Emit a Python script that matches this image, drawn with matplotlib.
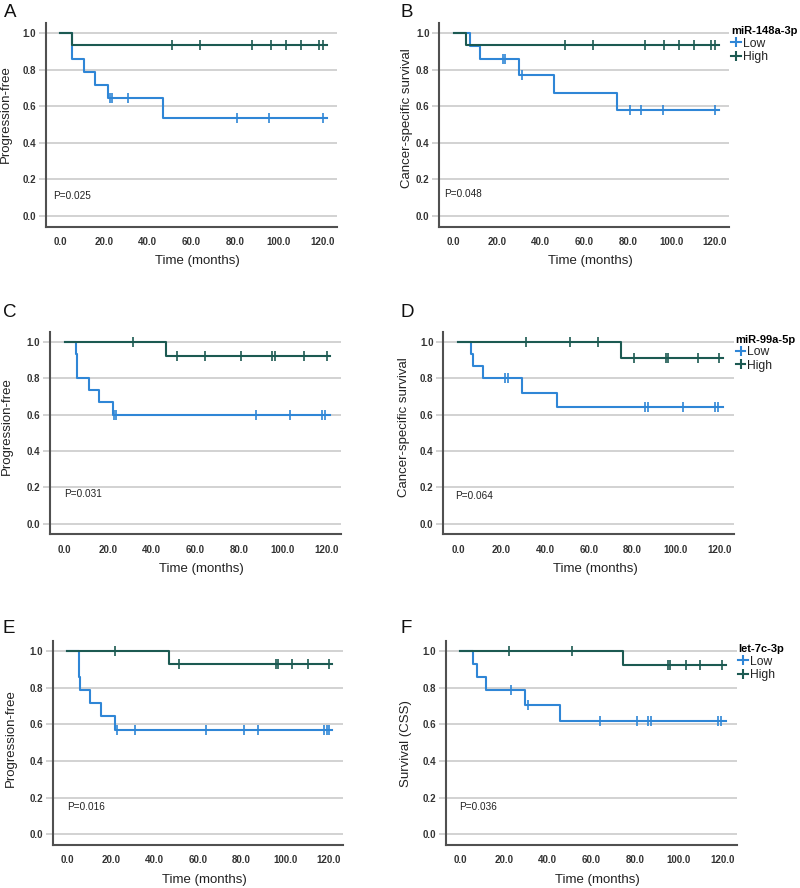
import numpy as np
import matplotlib
matplotlib.use("Agg")
import matplotlib.pyplot as plt
from matplotlib.lines import Line2D

plt.rcParams['font.family'] = ['Liberation Sans', 'DejaVu Sans']

# ---------------- data ----------------
panel_letters = ["A", "B", "C", "D", "E", "F"]
ylabels = ["Progression-free", "Cancer-specific survival", "Progression-free",
           "Cancer-specific survival", "Progression-free", "Survival (CSS)"]
p_values = ["P=0.025", "P=0.048", "P=0.031", "P=0.064", "P=0.016", "P=0.036"]
legend_titles = {1: "miR-148a-3p", 3: "miR-99a-5p", 5: "let-7c-3p"}
group_names = ["Low", "High"]
x_ticks = [0, 20, 40, 60, 80, 100, 120]
y_ticks = [0.0, 0.2, 0.4, 0.6, 0.8, 1.0]

# A: PFS, miR-148a-3p
A_low_t = [5.5, 10.9, 15.8, 22.0, 46.8]
A_low_s = [0.857, 0.786, 0.714, 0.643, 0.536]
A_low_c = [22.6, 23.8, 31.0, 80.9, 95.6, 120.4]
A_high_t = [5.5]
A_high_s = [0.933]
A_high_c = [51.2, 64.1, 87.8, 96.5, 103.5, 110.4, 118.4, 120.1]

# B: CSS, miR-148a-3p
B_low_t = [7.3, 11.8, 29.9, 45.9, 75.0]
B_low_s = [0.929, 0.857, 0.771, 0.675, 0.578]
B_low_c = [22.5, 23.7, 31.2, 80.8, 86.0, 96.0, 120.3]
B_high_t = [5.7]
B_high_s = [0.933]
B_high_c = [51.1, 64.1, 88.0, 96.7, 103.5, 110.5, 118.2, 120.0]

# C: PFS, miR-99a-5p
C_low_t = [5.2, 5.7, 11.0, 15.9, 22.0]
C_low_s = [0.933, 0.8, 0.733, 0.667, 0.6]
C_low_c = [22.5, 23.7, 87.9, 103.5, 118.3, 119.7]
C_high_t = [46.6]
C_high_s = [0.923]
C_high_c = [31.6, 51.7, 64.5, 80.9, 95.4, 96.6, 109.9, 120.3]

# D: CSS, miR-99a-5p
D_low_t = [5.8, 6.9, 11.3, 29.3, 45.4]
D_low_s = [0.933, 0.867, 0.8, 0.72, 0.64]
D_low_c = [21.8, 23.0, 86.0, 87.3, 103.2, 118.2, 119.5]
D_high_t = [74.7]
D_high_s = [0.909]
D_high_c = [31.3, 51.3, 64.1, 80.9, 95.7, 96.4, 110.1, 119.8]

# E: PFS, let-7c-3p
E_low_t = [5.2, 5.8, 10.5, 15.3, 21.7]
E_low_s = [0.857, 0.786, 0.714, 0.643, 0.571]
E_low_c = [22.8, 31.0, 63.9, 80.9, 87.4, 117.9, 119.0, 120.1]
E_high_t = [46.5]
E_high_s = [0.927]
E_high_c = [22.0, 51.2, 95.8, 96.5, 103.2, 110.4, 120.1]

# F: CSS, let-7c-3p
F_low_t = [5.8, 7.6, 11.9, 29.5, 45.9]
F_low_s = [0.929, 0.857, 0.786, 0.707, 0.619]
F_low_c = [23.1, 31.0, 64.0, 81.0, 86.0, 87.2, 118.0, 119.3]
F_high_t = [74.7]
F_high_s = [0.923]
F_high_c = [22.2, 51.2, 95.1, 96.2, 103.3, 110.1, 120.0]

follow_up_end = [121.9, 122.0, 121.8, 121.5, 121.7, 121.7]

panels = [
    ((A_low_t, A_low_s, A_low_c), (A_high_t, A_high_s, A_high_c)),
    ((B_low_t, B_low_s, B_low_c), (B_high_t, B_high_s, B_high_c)),
    ((C_low_t, C_low_s, C_low_c), (C_high_t, C_high_s, C_high_c)),
    ((D_low_t, D_low_s, D_low_c), (D_high_t, D_high_s, D_high_c)),
    ((E_low_t, E_low_s, E_low_c), (E_high_t, E_high_s, E_high_c)),
    ((F_low_t, F_low_s, F_low_c), (F_high_t, F_high_s, F_high_c)),
]

# ---------------- style / layout ----------------
W, H = 800, 888
c_low = "#2f86d6"
c_high = "#1c5a52"
grid_c = "#c6c6c6"
spine_c = "#505050"
text_c = "#222222"

# axes boxes in pixels: left, top, right, bottom
boxes = [
    (45.7, 23.0, 337.0, 226.7),
    (439.3, 23.0, 729.3, 226.7),
    (50.0, 331.7, 340.7, 534.3),
    (443.3, 331.7, 734.0, 534.3),
    (52.7, 640.7, 343.3, 845.0),
    (445.7, 641.0, 736.7, 845.0),
]
letter_pos = [(4, 16.7), (400, 16.7), (3.3, 316.7), (400, 316.7), (2.7, 633.3), (400, 633.3)]
p_pos = [(-3.2, 0.111), (-4.6, 0.12), (0.0, 0.166), (-1.1, 0.151), (0.0, 0.148), (-0.5, 0.148)]
ylabel_x = [-0.117, -0.091, -0.126, -0.115, -0.122, -0.117]
ylabel_y = [0.551, 0.534, 0.535, 0.531, 0.522, 0.498]

fig = plt.figure(figsize=(W / 100, H / 100), dpi=100)


def km_step(times, surv, end):
    x = [0.0] + list(times) + [end]
    y = [1.0] + list(surv) + [surv[-1]]
    return np.array(x), np.array(y)


def surv_at(times, surv, c):
    t = np.array([0.0] + list(times))
    s = np.array([1.0] + list(surv))
    idx = np.searchsorted(t, c, side="right") - 1
    return s[idx]


for i, (box, data) in enumerate(zip(boxes, panels)):
    l, t, r, b = box
    ax = fig.add_axes([l / W, 1 - b / H, (r - l) / W, (b - t) / H])
    ax.set_xlim(-6.7, 126.7)
    ax.set_ylim(-0.058, 1.055)

    for yv in y_ticks:
        ax.axhline(yv, color=grid_c, lw=1.1, zorder=0)

    end = follow_up_end[i]
    for (tt, ss, cc), col, z in zip(data, (c_low, c_high), (2, 3)):
        x, y = km_step(tt, ss, end)
        ax.step(x, y, where="post", color=col, lw=1.5, zorder=z)
        cy = [surv_at(tt, ss, cv) for cv in cc]
        ax.plot(cc, cy, ls="none", marker="|", ms=7, mew=1.2, color=col, zorder=z)

    for s in ("top", "right"):
        ax.spines[s].set_visible(False)
    for s in ("left", "bottom"):
        ax.spines[s].set_color(spine_c)
        ax.spines[s].set_linewidth(1.5)

    ax.set_xticks(x_ticks)
    ax.set_xticklabels([f"{v:.1f}" for v in x_ticks], fontweight="bold")
    ax.set_yticks(y_ticks)
    ax.set_yticklabels([f"{v:.1f}" for v in y_ticks], fontweight="bold")
    ax.tick_params(axis="x", length=0, pad=7.5, labelsize=7, labelcolor="#333333")
    ax.tick_params(axis="y", length=5, width=1.1, color=grid_c, pad=2,
                   labelsize=7, labelcolor="#333333")

    ax.set_xlabel("Time (months)", fontsize=9.5, color=text_c)
    ax.xaxis.set_label_coords(0.522, -0.14)
    ax.set_ylabel(ylabels[i], fontsize=9.5, color=text_c)
    ax.yaxis.set_label_coords(ylabel_x[i], ylabel_y[i])

    ax.text(p_pos[i][0], p_pos[i][1], p_values[i], fontsize=7.2, color=text_c,
            ha="left", va="center")

    lx, ly = letter_pos[i]
    fig.text(lx / W, 1 - ly / H, panel_letters[i], fontsize=13.5, ha="left",
             va="baseline", color="#111111")

    if i in legend_titles:
        handles = [Line2D([], [], color=c, lw=1.5, marker="|", ms=7, mew=1.5)
                   for c in (c_low, c_high)]
        leg = ax.legend(handles, group_names, title=legend_titles[i],
                        loc="upper left", bbox_to_anchor=(1.006, 0.985),
                        frameon=False, fontsize=8.7,
                        title_fontproperties={"weight": "bold", "size": 8},
                        alignment="left", handlelength=0.8, handletextpad=0.15,
                        labelspacing=0.12, borderpad=0, borderaxespad=0)
        for txt in leg.get_texts():
            txt.set_color(text_c)

fig.savefig("out.png", dpi=100)
